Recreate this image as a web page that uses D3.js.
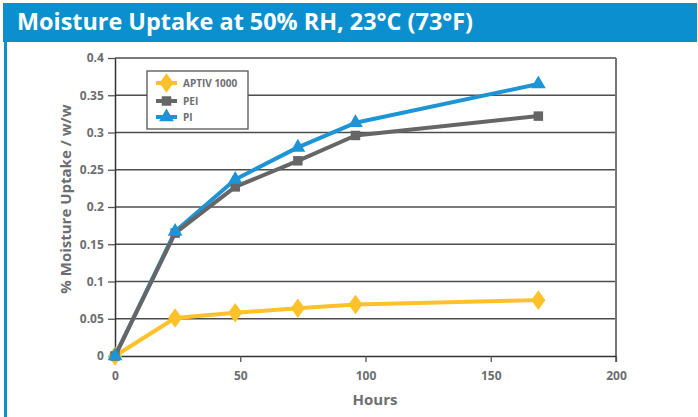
<!DOCTYPE html>
<html><head><meta charset="utf-8">
<script src="https://cdn.jsdelivr.net/npm/d3@7"></script>
<style>html,body{margin:0;padding:0;background:#fff;}svg{display:block;}</style>
</head><body>
<svg id="chart" width="698" height="417"></svg>
<script>
const title = "Moisture Uptake at 50% RH, 23°C (73°F)";
const hours = [0, 24, 48, 73, 96, 169];
const aptiv = [0, 0.051, 0.058, 0.064, 0.069, 0.075];
const pei = [0, 0.165, 0.227, 0.262, 0.296, 0.322];
const pi = [0, 0.167, 0.237, 0.280, 0.313, 0.365];
const seriesNames = ["APTIV 1000", "PEI", "PI"];
const xTicks = [0, 50, 100, 150, 200];
const yTicks = [0, 0.05, 0.1, 0.15, 0.2, 0.25, 0.3, 0.35, 0.4];
const xTitle = "Hours";
const yTitle = "% Moisture Uptake / w/w";

const svg = d3.select("#chart");
const font = "'Open Sans', 'DejaVu Sans', sans-serif";
const blue = "#0b8fcf";
const gray = "#6d6e71";

// frame
svg.append("rect").attr("x", 3).attr("y", 3).attr("width", 694).attr("height", 39).attr("fill", blue);
svg.append("rect").attr("x", 4).attr("y", 42).attr("width", 3).attr("height", 375).attr("fill", blue);
svg.append("text").attr("x", 17).attr("y", 30).text(title)
  .attr("fill", "#fff").attr("font-family", font).attr("font-weight", "bold").attr("font-size", 23.4);

const x = d3.scaleLinear().domain([0, 200]).range([115, 616]);
const y = d3.scaleLinear().domain([0, 0.4]).range([356, 58]);

// gridlines
svg.append("g").selectAll("line").data(yTicks.slice(1)).join("line")
  .attr("x1", x(0)).attr("x2", x(200)).attr("y1", d => y(d)).attr("y2", d => y(d))
  .attr("stroke", "#4d4d4d").attr("stroke-width", 1.3);
svg.append("line").attr("x1", x(200)).attr("x2", x(200)).attr("y1", y(0.4)).attr("y2", y(0) + 6)
  .attr("stroke", "#777").attr("stroke-width", 2);

// axes
const xAxis = svg.append("g").attr("transform", `translate(0,${y(0)})`)
  .call(d3.axisBottom(x).tickValues(xTicks).tickSize(6).tickSizeOuter(0).tickFormat(d3.format("d")));
const yAxis = svg.append("g").attr("transform", `translate(${x(0)},0)`)
  .call(d3.axisLeft(y).tickValues(yTicks).tickSize(7).tickSizeOuter(0).tickFormat(d => d === 0 ? "0" : String(+d.toFixed(2))));
[xAxis, yAxis].forEach(a => {
  a.select(".domain").attr("stroke", "#333").attr("stroke-width", 1.5);
  a.selectAll(".tick line").attr("stroke", "#555").attr("stroke-width", 1.3);
  a.selectAll("text").attr("fill", gray).attr("font-family", font).attr("font-weight", "bold").attr("font-size", 12);
});
xAxis.selectAll("text").attr("dy", "1.25em");
yAxis.selectAll("text").attr("dx", "-0.1em");

svg.append("text").attr("x", 375).attr("y", 405).attr("text-anchor", "middle").text(xTitle)
  .attr("fill", gray).attr("font-family", font).attr("font-weight", "bold").attr("font-size", 15);
svg.append("text").attr("transform", "translate(71,199) rotate(-90)").attr("text-anchor", "middle").text(yTitle)
  .attr("fill", gray).attr("font-family", font).attr("font-weight", "bold").attr("font-size", 15);

const colors = ["#fdc12a", "#666666", "#1d94d6"];
const symbols = [d3.symbolDiamond, d3.symbolSquare, d3.symbolTriangle];
const symSizes = [110, 90, 95];
const data = [aptiv, pei, pi];
const line = d3.line().x((d, i) => x(hours[i])).y(d => y(d));

function drawLine(k) {
  svg.append("path").datum(data[k]).attr("d", line).attr("fill", "none")
    .attr("stroke", colors[k]).attr("stroke-width", 4).attr("stroke-linejoin", "round");
}
function drawMarkers(k) {
  const sym = d3.symbol().type(symbols[k]).size(symSizes[k]);
  svg.append("g").selectAll("path").data(data[k]).join("path")
    .attr("d", sym)
    .attr("transform", (d, i) => `translate(${x(hours[i])},${y(d)})` + (k === 0 ? " scale(1.25,1)" : ""))
    .attr("fill", colors[k]);
}
drawLine(0); drawMarkers(0);
drawLine(2); drawLine(1);
drawMarkers(1); drawMarkers(2);

// legend
const lg = svg.append("g");
lg.append("rect").attr("x", 147).attr("y", 71).attr("width", 101).attr("height", 58)
  .attr("fill", "#fff").attr("stroke", "#555").attr("stroke-width", 1.3);
const ly = [83, 101, 117];
seriesNames.forEach((name, k) => {
  lg.append("line").attr("x1", 156).attr("x2", 177).attr("y1", ly[k]).attr("y2", ly[k])
    .attr("stroke", colors[k]).attr("stroke-width", 4);
  lg.append("path").attr("d", d3.symbol().type(symbols[k]).size(symSizes[k])())
    .attr("transform", `translate(166.5,${ly[k]})` + (k === 0 ? " scale(1.25,1)" : ""))
    .attr("fill", colors[k]);
  lg.append("text").attr("x", 183).attr("y", ly[k]).attr("dy", "0.35em").text(name)
    .attr("fill", gray).attr("font-family", font).attr("font-weight", "bold").attr("font-size", 10);
});
</script>
</body></html>
